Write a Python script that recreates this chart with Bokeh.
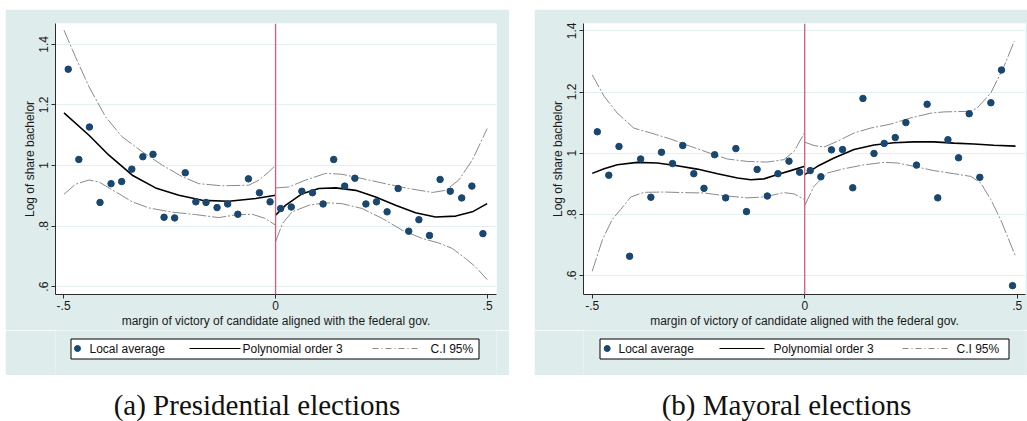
from bokeh.plotting import figure
from bokeh.models import Range1d, FixedTicker, CustomJSTickFormatter, Span, Spacer
from bokeh.layouts import row, column
from bokeh.core.properties import value
from bokeh.embed import file_html
from bokeh.resources import INLINE

# ---------------- data ----------------
x_ticks = [-0.5, 0, 0.5]
y_ticks = [0.6, 0.8, 1.0, 1.2, 1.4]
x_title = "margin of victory of candidate aligned with the federal gov."
y_title = "Log of share bachelor"
legend_labels = ["Local average", "Polynomial order 3", "C.I 95%"]
captions = ["(a) Presidential elections", "(b) Mayoral elections"]

# (a) Presidential elections: local averages
pres_pts_x = [-0.489, -0.464, -0.439, -0.414, -0.388, -0.363, -0.339, -0.313, -0.289, -0.263,
              -0.238, -0.213, -0.188, -0.164, -0.138, -0.113, -0.089, -0.064, -0.038, -0.013,
              0.012, 0.037, 0.062, 0.087, 0.112, 0.137, 0.163, 0.187, 0.213, 0.238,
              0.263, 0.289, 0.314, 0.338, 0.363, 0.388, 0.412, 0.439, 0.463, 0.489]
pres_pts_y = [1.318, 1.020, 1.127, 0.878, 0.940, 0.947, 0.988, 1.029, 1.037, 0.829,
              0.827, 0.976, 0.880, 0.878, 0.861, 0.873, 0.839, 0.956, 0.910, 0.880,
              0.858, 0.863, 0.915, 0.910, 0.873, 1.020, 0.932, 0.958, 0.873, 0.880,
              0.847, 0.924, 0.783, 0.821, 0.769, 0.954, 0.915, 0.893, 0.932, 0.775]
# polynomial fit and CI (left / right of the cutoff)
pres_fit_l_x = [-0.499, -0.44, -0.393, -0.338, -0.283, -0.228, -0.173, -0.11, -0.047, 0.0]
pres_fit_l_y = [1.174, 1.100, 1.034, 0.968, 0.926, 0.902, 0.885, 0.882, 0.891, 0.902]
pres_hi_l_x = [-0.499, -0.472, -0.44, -0.401, -0.362, -0.314, -0.267, -0.22, -0.181, -0.126, -0.063, -0.039, -0.016, 0.0]
pres_hi_l_y = [1.447, 1.359, 1.260, 1.161, 1.095, 1.045, 1.001, 0.963, 0.940, 0.933, 0.935, 0.952, 0.979, 1.001]
pres_lo_l_x = [-0.499, -0.472, -0.44, -0.417, -0.377, -0.338, -0.299, -0.244, -0.189, -0.134, -0.094, -0.055, -0.024, 0.0]
pres_lo_l_y = [0.905, 0.938, 0.952, 0.946, 0.913, 0.880, 0.860, 0.846, 0.838, 0.828, 0.837, 0.839, 0.825, 0.803]
pres_fit_r_x = [0.0, 0.024, 0.063, 0.102, 0.142, 0.189, 0.236, 0.283, 0.33, 0.377, 0.425, 0.464, 0.499]
pres_fit_r_y = [0.836, 0.869, 0.907, 0.924, 0.926, 0.918, 0.896, 0.869, 0.844, 0.830, 0.833, 0.847, 0.874]
pres_hi_r_x = [0.0, 0.031, 0.071, 0.118, 0.157, 0.204, 0.259, 0.314, 0.37, 0.401, 0.432, 0.464, 0.499]
pres_hi_r_y = [0.926, 0.929, 0.952, 0.974, 0.971, 0.957, 0.940, 0.924, 0.911, 0.918, 0.952, 1.018, 1.122]
pres_lo_r_x = [0.0, 0.016, 0.039, 0.079, 0.118, 0.157, 0.204, 0.252, 0.299, 0.346, 0.385, 0.417, 0.448, 0.472, 0.499]
pres_lo_r_y = [0.748, 0.808, 0.847, 0.869, 0.877, 0.874, 0.858, 0.825, 0.786, 0.759, 0.744, 0.726, 0.693, 0.665, 0.623]

# (b) Mayoral elections: local averages
may_pts_x = [-0.488, -0.461, -0.437, -0.412, -0.386, -0.362, -0.337, -0.311, -0.287, -0.261,
             -0.237, -0.212, -0.186, -0.162, -0.137, -0.112, -0.088, -0.063, -0.037, -0.012,
             0.013, 0.038, 0.063, 0.089, 0.113, 0.137, 0.163, 0.187, 0.213, 0.238,
             0.263, 0.288, 0.313, 0.337, 0.362, 0.387, 0.412, 0.438, 0.463, 0.489]
may_pts_y = [1.070, 0.928, 1.022, 0.663, 0.981, 0.856, 1.003, 0.966, 1.025, 0.933,
             0.885, 0.995, 0.854, 1.015, 0.809, 0.947, 0.860, 0.933, 0.974, 0.938,
             0.943, 0.923, 1.011, 1.012, 0.887, 1.179, 0.999, 1.032, 1.051, 1.100,
             0.961, 1.160, 0.854, 1.044, 0.985, 1.129, 0.921, 1.165, 1.272, 0.567]
may_fit_l_x = [-0.5, -0.472, -0.441, -0.394, -0.347, -0.3, -0.253, -0.205, -0.158, -0.127, -0.096, -0.064, -0.033, 0.0]
may_fit_l_y = [0.934, 0.949, 0.962, 0.970, 0.968, 0.959, 0.948, 0.933, 0.919, 0.913, 0.916, 0.930, 0.943, 0.957]
may_hi_l_x = [-0.5, -0.472, -0.441, -0.402, -0.362, -0.315, -0.268, -0.221, -0.182, -0.135, -0.088, -0.049, -0.025, 0.0]
may_hi_l_y = [1.256, 1.186, 1.131, 1.082, 1.066, 1.046, 1.022, 0.999, 0.981, 0.973, 0.971, 0.979, 1.006, 1.068]
may_lo_l_x = [-0.5, -0.476, -0.453, -0.433, -0.409, -0.378, -0.331, -0.284, -0.237, -0.19, -0.135, -0.096, -0.049, -0.025, 0.0]
may_lo_l_y = [0.614, 0.717, 0.783, 0.816, 0.857, 0.872, 0.873, 0.871, 0.870, 0.861, 0.854, 0.857, 0.871, 0.867, 0.848]
may_fit_r_x = [0.0, 0.03, 0.069, 0.116, 0.163, 0.21, 0.257, 0.304, 0.351, 0.398, 0.445, 0.496]
may_fit_r_y = [0.930, 0.957, 0.984, 1.012, 1.027, 1.034, 1.037, 1.037, 1.033, 1.030, 1.026, 1.023]
may_hi_r_x = [0.0, 0.022, 0.045, 0.077, 0.116, 0.155, 0.202, 0.249, 0.297, 0.328, 0.39, 0.406, 0.438, 0.469, 0.493]
may_hi_r_y = [1.036, 1.025, 1.020, 1.039, 1.066, 1.082, 1.095, 1.115, 1.131, 1.135, 1.137, 1.148, 1.197, 1.284, 1.366]
may_lo_r_x = [0.0, 0.022, 0.053, 0.092, 0.14, 0.187, 0.218, 0.257, 0.304, 0.351, 0.391, 0.414, 0.438, 0.461, 0.496]
may_lo_r_y = [0.829, 0.892, 0.935, 0.949, 0.962, 0.970, 0.968, 0.957, 0.943, 0.933, 0.924, 0.903, 0.848, 0.783, 0.663]

# ---------------- styles ----------------
BG = "#dfecec"
GRID = "#e6efef"
NAVY = "#1a476f"
CI_COL = "#8a8a8a"
CI_DASH = "14 2 2 2"
CUT_COL = "#d45c78"
SANS = "Liberation Sans"
SERIF = "Liberation Serif"

fmt = CustomJSTickFormatter(code="return String(tick).replace(/^(-?)0\\./, '$1.');")


def panel(width, ml, mr, xr, yr, pts, curves):
    p = figure(width=width, height=321, x_range=Range1d(*xr), y_range=Range1d(*yr),
               output_backend="svg", toolbar_location=None,
               min_border_left=ml, min_border_right=mr, min_border_top=14, min_border_bottom=36)
    p.background_fill_color = "white"
    p.border_fill_color = BG
    p.outline_line_color = None
    p.xgrid.visible = False
    p.ygrid.grid_line_color = GRID
    p.ygrid.grid_line_width = 1
    p.xaxis.ticker = FixedTicker(ticks=x_ticks)
    p.yaxis.ticker = FixedTicker(ticks=y_ticks)
    for ax in (p.xaxis[0], p.yaxis[0]):
        ax.formatter = fmt
        ax.axis_line_color = "#2b2b2b"
        ax.major_tick_line_color = "#2b2b2b"
        ax.major_tick_out = 4
        ax.major_tick_in = 0
        ax.minor_tick_line_color = None
        ax.major_label_text_font = SANS
        ax.major_label_text_font_size = "12px"
        ax.major_label_text_color = "#1a1a1a"
        ax.axis_label_text_font = SANS
        ax.axis_label_text_font_size = "12px"
        ax.axis_label_text_font_style = "normal"
        ax.axis_label_text_color = "#1a1a1a"
    p.xaxis.axis_label = x_title
    p.xaxis.major_label_standoff = 2
    p.xaxis.axis_label_standoff = 1
    p.yaxis.axis_label = y_title
    p.yaxis.major_label_orientation = "vertical"
    p.yaxis.major_label_standoff = 3
    p.yaxis.axis_label_standoff = 0

    p.add_layout(Span(location=0, dimension="height", line_color=CUT_COL, line_width=1.3))
    for (hx, hy), (lx, ly), (fx, fy) in curves:
        p.line(hx, hy, line_color=CI_COL, line_width=1, line_dash=CI_DASH)
        p.line(lx, ly, line_color=CI_COL, line_width=1, line_dash=CI_DASH)
        p.line(fx, fy, line_color="black", line_width=1.6)
    p.scatter(pts[0], pts[1], size=6.5, marker="circle", fill_color=NAVY, line_color=NAVY)
    return p


def legend_fig(width, ml, mr, box_l, box_r, marker_x, lab1_x, line_x0, line_x1, lab2_x, dash_x0, dash_x1, lab3_x):
    # frame matches the panel above it (column layouts align frames); x in figure pixels
    L = figure(width=width, height=45, x_range=Range1d(ml, width - mr), y_range=Range1d(45, 0),
               output_backend="svg", toolbar_location=None, min_border=0,
               min_border_left=ml, min_border_right=mr,
               x_axis_location=None, y_axis_location=None)
    L.grid.visible = False
    L.outline_line_color = None
    L.background_fill_color = BG
    L.border_fill_color = BG
    L.quad(left=[box_l], right=[box_r], top=[8.5], bottom=[28.5],
           fill_color="white", line_color="black", line_width=1)
    L.scatter([marker_x], [18], size=6, marker="circle", fill_color=NAVY, line_color=NAVY)
    L.line([line_x0, line_x1], [18, 18], line_color="black", line_width=1)
    L.line([dash_x0, dash_x1], [18, 18], line_color=CI_COL, line_width=1, line_dash="6 3 1 3")
    L.text(x=[lab1_x, lab2_x, lab3_x], y=[18.8, 18.8, 18.8], text=legend_labels,
           text_font=value(SANS), text_font_size="12px", text_color="#111111",
           text_baseline="alphabetic", text_align="left")
    return L


pa = panel(504, 50, 13, (-0.519, 0.521), (0.574, 1.469), (pres_pts_x, pres_pts_y),
           [((pres_hi_l_x, pres_hi_l_y), (pres_lo_l_x, pres_lo_l_y), (pres_fit_l_x, pres_fit_l_y)),
            ((pres_hi_r_x, pres_hi_r_y), (pres_lo_r_x, pres_lo_r_y), (pres_fit_r_x, pres_fit_r_y))])
pb = panel(493, 49, 2, (-0.5205, 0.5195), (0.538, 1.424), (may_pts_x, may_pts_y),
           [((may_hi_l_x, may_hi_l_y), (may_lo_l_x, may_lo_l_y), (may_fit_l_x, may_fit_l_y)),
            ((may_hi_r_x, may_hi_r_y), (may_lo_r_x, may_lo_r_y), (may_fit_r_x, may_fit_r_y))])

la = legend_fig(504, 50, 13, 65.5, 473.5, 72, 84, 184, 235, 237, 367, 415, 425)
lb = legend_fig(493, 49, 2, 65.5, 474.5, 72.7, 84, 185, 230, 239, 368, 414, 422)

cap = figure(width=1027, height=46, x_range=Range1d(0, 1027), y_range=Range1d(46, 0),
             output_backend="svg", toolbar_location=None, min_border=0,
             x_axis_location=None, y_axis_location=None)
cap.grid.visible = False
cap.outline_line_color = None
cap.background_fill_color = "white"
cap.border_fill_color = "white"
cap.text(x=[256.5, 786], y=[29.8, 29.8], text=captions, text_font=value(SERIF),
         text_font_size="29px", text_color="#111111", text_align="center", text_baseline="alphabetic")

top = row(Spacer(width=5, height=366), column(pa, la), Spacer(width=25, height=366), column(pb, lb))
layout = column(Spacer(width=1027, height=9), top, cap)

open("out.html", "w").write(file_html(layout, INLINE))
